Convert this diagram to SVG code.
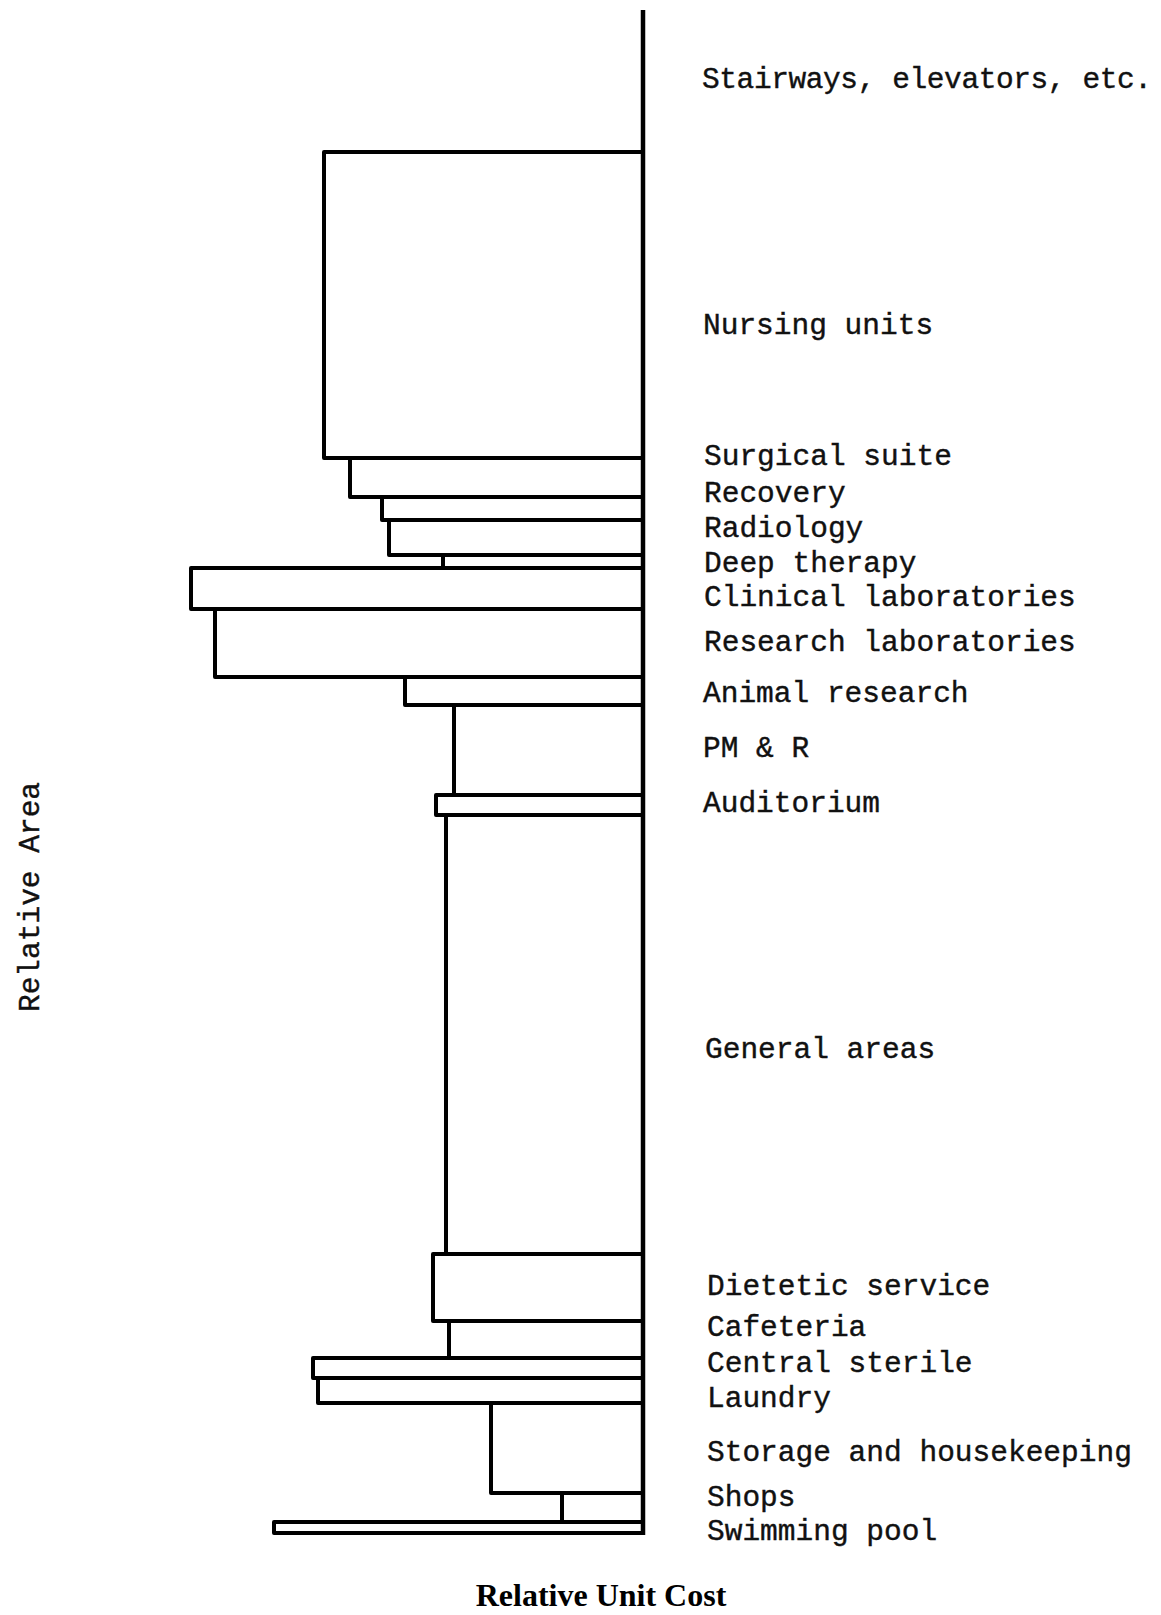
<svg xmlns="http://www.w3.org/2000/svg" width="1161" height="1615" viewBox="0 0 1161 1615">
  <style>
    .bar { fill: none; stroke: #000; stroke-width: 4; stroke-linejoin: round; }
    .axis { fill: none; stroke: #000; stroke-width: 4.5; }
    .lbl { font-family: "Liberation Mono", "DejaVu Sans Mono", monospace; font-size: 29.5px; fill: #111; stroke: #111; stroke-width: 0.4; }
    .title { font-family: "Liberation Serif", "Times New Roman", serif; font-size: 32px; font-weight: bold; fill: #000; }
  </style>
  <rect width="1161" height="1615" fill="#fff"/>

  <!-- vertical axis -->
  <g id="axis">
    <line class="axis" x1="643" y1="10" x2="643" y2="1535"/>
  </g>

  <!-- one bar per department: width = relative unit cost, height = relative area -->
  <g id="bars">
    <g id="nursing-units"><rect class="bar" x="324" y="152" width="319" height="306"/></g>
    <g id="surgical-suite"><rect class="bar" x="350" y="458" width="293" height="39"/></g>
    <g id="recovery"><rect class="bar" x="382" y="497" width="261" height="23"/></g>
    <g id="radiology"><rect class="bar" x="389" y="520" width="254" height="35"/></g>
    <g id="deep-therapy"><rect class="bar" x="443" y="555" width="200" height="13"/></g>
    <g id="clinical-laboratories"><rect class="bar" x="191" y="568" width="452" height="41"/></g>
    <g id="research-laboratories"><rect class="bar" x="215" y="609" width="428" height="68"/></g>
    <g id="animal-research"><rect class="bar" x="405" y="677" width="238" height="28"/></g>
    <g id="pm-r"><rect class="bar" x="454" y="705" width="189" height="90"/></g>
    <g id="auditorium"><rect class="bar" x="436" y="795" width="207" height="20"/></g>
    <g id="general-areas"><rect class="bar" x="446" y="815" width="197" height="439"/></g>
    <g id="dietetic-service"><rect class="bar" x="433" y="1254" width="210" height="67"/></g>
    <g id="cafeteria"><rect class="bar" x="449" y="1321" width="194" height="37"/></g>
    <g id="central-sterile"><rect class="bar" x="313" y="1358" width="330" height="20"/></g>
    <g id="laundry"><rect class="bar" x="318" y="1378" width="325" height="25"/></g>
    <g id="storage-housekeeping"><rect class="bar" x="491" y="1403" width="152" height="90"/></g>
    <g id="shops"><rect class="bar" x="562" y="1493" width="81" height="29"/></g>
    <g id="swimming-pool"><rect class="bar" x="274" y="1522" width="369" height="11"/></g>
  </g>

  <!-- department labels -->
  <g id="labels" class="lbl">
    <text x="702" y="88" textLength="450" lengthAdjust="spacing">Stairways, elevators, etc.</text>
    <text x="703" y="334">Nursing units</text>
    <text x="704" y="465">Surgical suite</text>
    <text x="704" y="502">Recovery</text>
    <text x="704" y="537">Radiology</text>
    <text x="704" y="572">Deep therapy</text>
    <text x="704" y="606">Clinical laboratories</text>
    <text x="704" y="651">Research laboratories</text>
    <text x="703" y="702">Animal research</text>
    <text x="703" y="757">PM &amp; R</text>
    <text x="703" y="812">Auditorium</text>
    <text x="705" y="1058">General areas</text>
    <text x="707" y="1295">Dietetic service</text>
    <text x="707" y="1336">Cafeteria</text>
    <text x="707" y="1372">Central sterile</text>
    <text x="707" y="1407">Laundry</text>
    <text x="707" y="1461">Storage and housekeeping</text>
    <text x="707" y="1506">Shops</text>
    <text x="707" y="1540">Swimming pool</text>
  </g>

  <!-- axis titles -->
  <g id="axis-titles">
    <text class="lbl" transform="translate(39,897) rotate(-90)" text-anchor="middle">Relative Area</text>
    <text class="title" x="601" y="1606" text-anchor="middle">Relative Unit Cost</text>
  </g>
</svg>
